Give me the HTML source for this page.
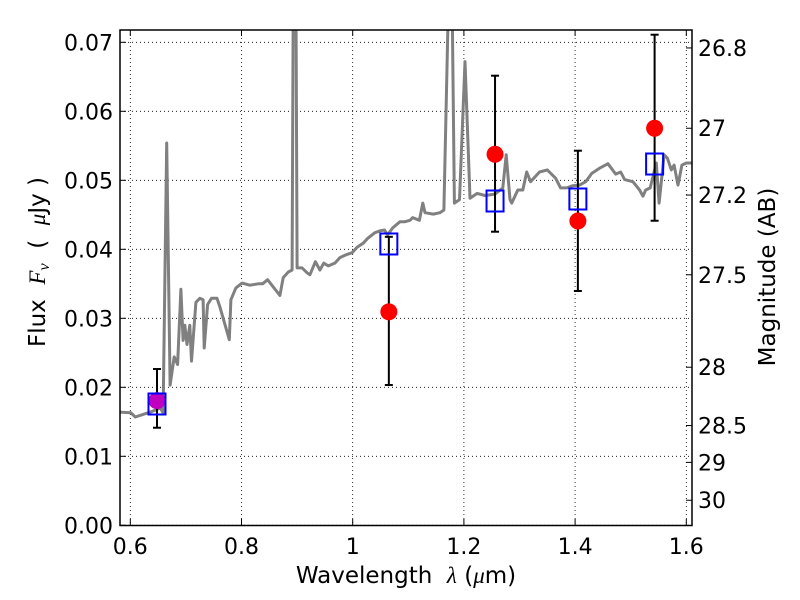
<!DOCTYPE html>
<html><head><meta charset="utf-8">
<style>
html,body{margin:0;padding:0;background:#fff;}
svg{display:block;font-family:"DejaVu Sans","Liberation Sans",sans-serif;}
</style></head>
<body>
<svg id="chart" width="800" height="600" viewBox="0 0 800 600" xmlns="http://www.w3.org/2000/svg">
<rect width="800" height="600" fill="#fff"/>
<defs><clipPath id="clip"><rect x="120" y="30" width="572" height="495.5"/></clipPath></defs>
<g id="grid"></g>
<g id="spec" clip-path="url(#clip)"></g>
<g id="phot"></g>
<rect x="120" y="30" width="572" height="495.5" fill="none" stroke="#000" stroke-width="1.5"/>
<g id="axes"></g>
<text x="406" y="583" font-size="23" text-anchor="middle">Wavelength&#160;&#160;<tspan font-family="Liberation Serif" font-style="italic">λ</tspan> (<tspan font-family="Liberation Serif" font-style="italic">μ</tspan>m)</text>
<text transform="translate(45,262) rotate(-90)" font-size="23" text-anchor="middle">Flux&#160;&#160;<tspan font-family="Liberation Serif" font-style="italic">F<tspan font-size="16" dy="4">ν</tspan></tspan><tspan dy="-4">&#160;&#160;(&#160;&#160;</tspan><tspan font-family="Liberation Serif" font-style="italic">μ</tspan>Jy )</text>
<text transform="translate(775,277) rotate(-90)" font-size="23" text-anchor="middle">Magnitude (AB)</text>
</svg>
<script>
const specLam=[0.581,0.601,0.609,0.636,0.654,0.659,0.6655,0.6716,0.679,0.685,0.691,0.695,0.698,0.702,0.707,0.710,0.718,0.725,0.731,0.733,0.739,0.746,0.756,0.761,0.778,0.781,0.790,0.801,0.815,0.830,0.838,0.847,0.869,0.875,0.884,0.891,0.893,0.898,0.900,0.909,0.918,0.923,0.933,0.941,0.948,0.956,0.968,0.977,0.988,0.999,1.008,1.019,1.027,1.040,1.050,1.057,1.063,1.072,1.085,1.094,1.103,1.108,1.120,1.126,1.130,1.145,1.157,1.164,1.172,1.179,1.183,1.192,1.202,1.211,1.224,1.238,1.256,1.270,1.276,1.283,1.286,1.297,1.306,1.313,1.320,1.336,1.350,1.365,1.374,1.385,1.395,1.408,1.419,1.430,1.445,1.459,1.473,1.482,1.489,1.504,1.516,1.522,1.527,1.535,1.546,1.551,1.560,1.566,1.573,1.578,1.585,1.592,1.600,1.610];
const specFlux=[0.0164,0.0163,0.0157,0.0164,0.0170,0.0163,0.0554,0.0203,0.0244,0.0233,0.0342,0.0268,0.0290,0.0262,0.0290,0.0238,0.0323,0.0329,0.0327,0.0257,0.0320,0.0329,0.0329,0.0317,0.0269,0.0327,0.0344,0.0351,0.0348,0.0350,0.0350,0.0356,0.0333,0.0359,0.0367,0.0370,0.0750,0.0750,0.0373,0.0373,0.0366,0.0363,0.0382,0.0370,0.0380,0.0376,0.0380,0.0388,0.0392,0.0395,0.0403,0.0409,0.0416,0.0424,0.0427,0.0428,0.0421,0.0431,0.0440,0.0440,0.0442,0.0446,0.0442,0.0467,0.0453,0.0451,0.0453,0.0457,0.0750,0.0750,0.0467,0.0472,0.0672,0.0474,0.0481,0.0478,0.0480,0.0489,0.0537,0.0472,0.0467,0.0486,0.0486,0.0512,0.0498,0.0512,0.0515,0.0503,0.0489,0.0489,0.0492,0.0493,0.0498,0.0510,0.0518,0.0524,0.0509,0.0512,0.0501,0.0498,0.0486,0.0477,0.0486,0.0489,0.0525,0.0467,0.0537,0.0532,0.0515,0.0522,0.0493,0.0522,0.0525,0.0525];
const photLam=[0.648,1.065,1.256,1.405,1.543];
const photFlux=[0.01806,0.03094,0.05377,0.0441,0.05754];
const errHigh=[0.02265,0.04181,0.06516,0.05429,0.0711];
const errLow=[0.01414,0.02033,0.04255,0.03396,0.04414];
const modelFlux=[0.01758,0.04077,0.0470,0.04729,0.05236];
const xTicks=[0.6,0.8,1.0,1.2,1.4,1.6];
const xTickLabels=["0.6","0.8","1","1.2","1.4","1.6"];
const yTicks=[0,0.01,0.02,0.03,0.04,0.05,0.06,0.07];
const yTickLabels=["0.00","0.01","0.02","0.03","0.04","0.05","0.06","0.07"];
const magTicks=[26.8,27,27.2,27.5,28,28.5,29,30];
const magTickLabels=["26.8","27","27.2","27.5","28","28.5","29","30"];

const X=l=>130.3+(l-0.6)*556;
const Y=f=>525.3-6900*f;
const magToFlux=m=>Math.pow(10,(23.9-m)/2.5);
const NS="http://www.w3.org/2000/svg";
function mk(tag,attrs,parent){const e=document.createElementNS(NS,tag);for(const k in attrs)e.setAttribute(k,attrs[k]);parent.appendChild(e);return e;}
const grid=document.getElementById('grid'),axes=document.getElementById('axes'),spec=document.getElementById('spec'),phot=document.getElementById('phot');

xTicks.forEach((v,i)=>{
  const x=X(v);
  const g=mk('line',{x1:x,x2:x,y1:30,y2:525.5,stroke:'#000','stroke-width':0.8,'stroke-dasharray':'1,3'},grid);
  
  
  const t1=mk('line',{x1:x,x2:x,y1:525.5,y2:519,stroke:'#000','stroke-width':1},axes);
  
  
  const t2=mk('line',{x1:x,x2:x,y1:30,y2:36,stroke:'#000','stroke-width':1},axes);
  
  
  const tx=mk('text',{x:x,y:554,'font-size':22,'text-anchor':'middle'},axes);
  tx.textContent=xTickLabels[i];
  
  
});
yTicks.forEach((v,i)=>{
  const y=Y(v);
  const g=mk('line',{x1:120,x2:692,y1:y,y2:y,stroke:'#000','stroke-width':0.8,'stroke-dasharray':'1,3'},grid);
  
  
  const t=mk('line',{x1:120,x2:126,y1:y,y2:y,stroke:'#000','stroke-width':1},axes);
  
  
  const tx=mk('text',{x:113,y:y+8,'font-size':22,'text-anchor':'end'},axes);
  tx.textContent=yTickLabels[i];
  
  
});
magTicks.forEach((m,i)=>{
  const y=Y(magToFlux(m));
  const t=mk('line',{x1:686,x2:692,y1:y,y2:y,stroke:'#000','stroke-width':1},axes);
  
  
  const tx=mk('text',{x:698,y:y+8,'font-size':22},axes);
  tx.textContent=magTickLabels[i];
  
  
});

const d=specLam.map((l,i)=>(i?'L':'M')+X(l).toFixed(1)+','+Y(specFlux[i]).toFixed(1)).join('');
const p=mk('path',{d:d,fill:'none',stroke:'#808080','stroke-width':3,'stroke-linejoin':'round'},spec);



photLam.forEach((l,i)=>{
  const x=X(l);
  const e=mk('g',{},phot);
  
  
  mk('line',{x1:x,x2:x,y1:Y(errHigh[i]),y2:Y(errLow[i]),stroke:'#000','stroke-width':2},e);
  mk('line',{x1:x-4,x2:x+4,y1:Y(errHigh[i]),y2:Y(errHigh[i]),stroke:'#000','stroke-width':2},e);
  mk('line',{x1:x-4,x2:x+4,y1:Y(errLow[i]),y2:Y(errLow[i]),stroke:'#000','stroke-width':2},e);
});
photLam.forEach((l,i)=>{
  const c=mk('circle',{cx:X(l),cy:Y(photFlux[i]),r:8.5,fill:i===0?'#bf00bf':'#ff0000'},phot);
  
  
});
photLam.forEach((l,i)=>{
  const s=mk('rect',{x:X(l)-8.5,y:Y(modelFlux[i])-10.5,width:17,height:21,fill:'none',stroke:'#0000ff','stroke-width':2},phot);
  
  
});
</script>
</body></html>
